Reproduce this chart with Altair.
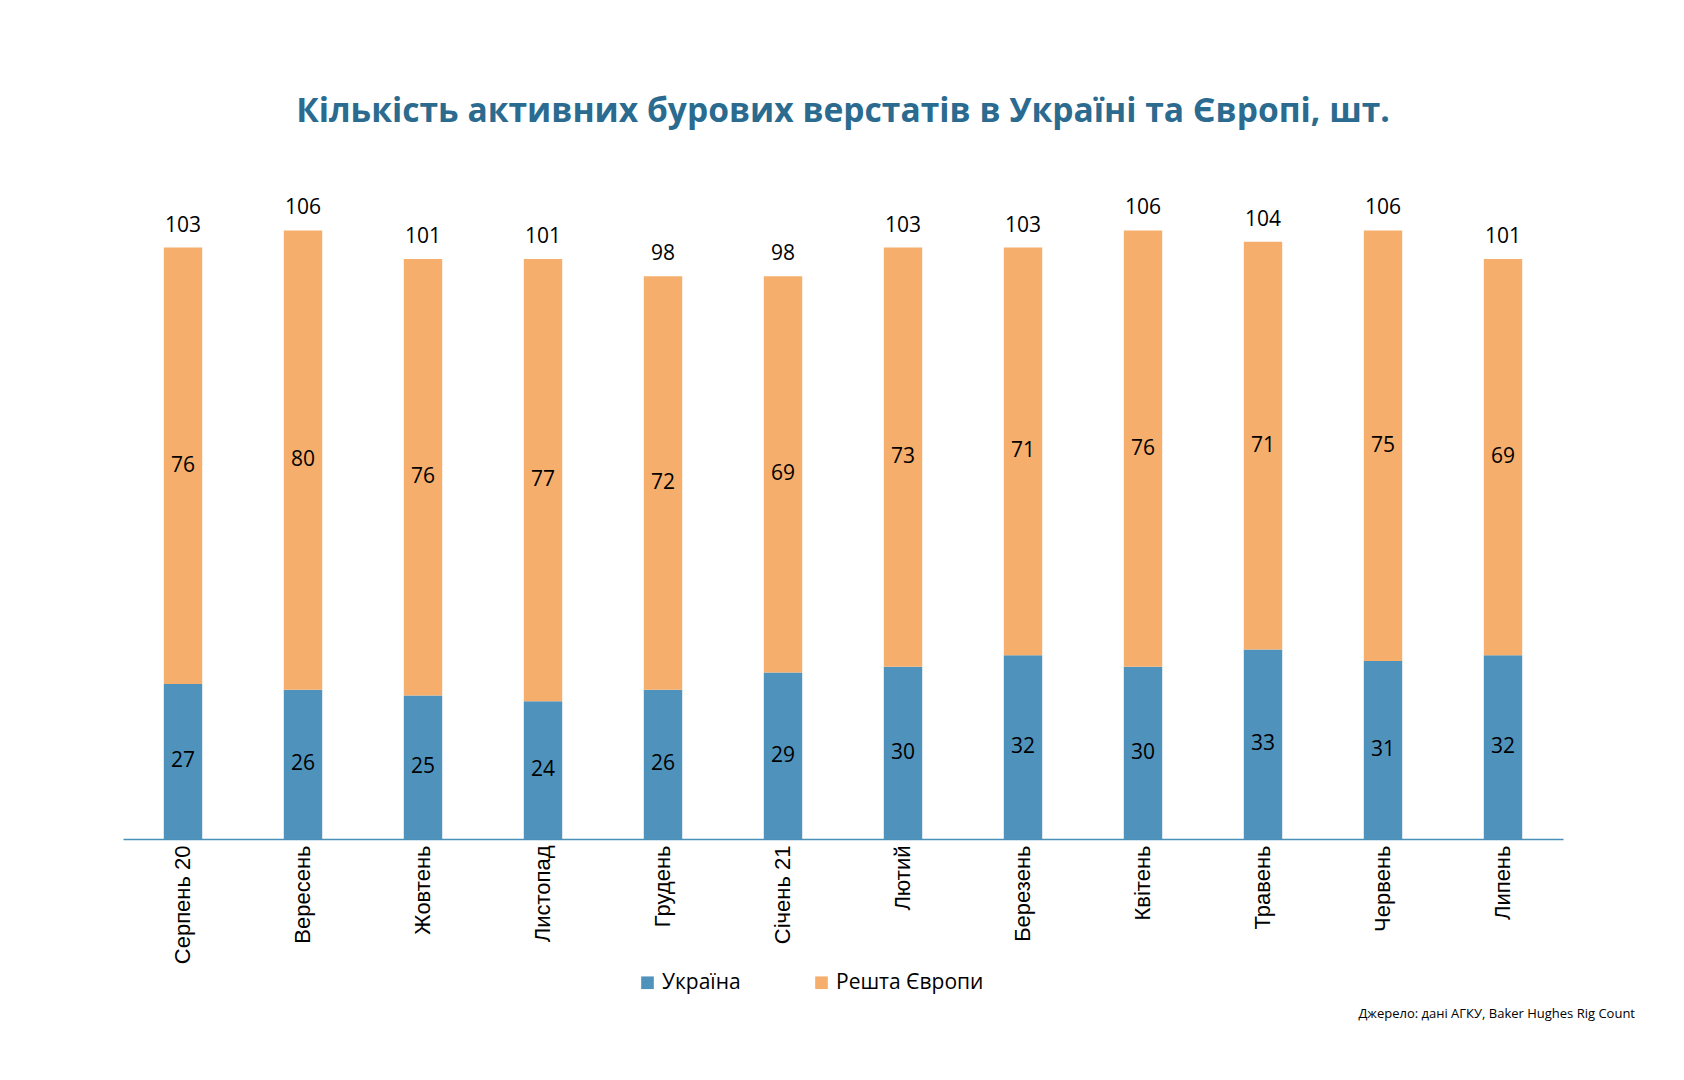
import altair as alt
import pandas as pd

months = ["Серпень 20", "Вересень", "Жовтень", "Листопад", "Грудень", "Січень 21",
          "Лютий", "Березень", "Квітень", "Травень", "Червень", "Липень"]
ukraine = [27, 26, 25, 24, 26, 29, 30, 32, 30, 33, 31, 32]
europe = [76, 80, 76, 77, 72, 69, 73, 71, 76, 71, 75, 69]
series = ["Україна", "Решта Європи"]
colors = ["#4f93bd", "#f6ae6d"]

rows = []
for i, m in enumerate(months):
    rows.append({"month": m, "series": series[0], "value": ukraine[i], "ord": 0})
    rows.append({"month": m, "series": series[1], "value": europe[i], "ord": 1})
df = pd.DataFrame(rows)

FONT = "Open Sans"

base = alt.Chart(df).transform_stack(
    stack="value", as_=["y0", "y1"], groupby=["month"], sort=[alt.SortField("ord")]
).transform_calculate(mid="(datum.y0 + datum.y1) / 2")

xenc = alt.X("month:N", sort=months, title=None,
             scale=alt.Scale(paddingInner=0.68, paddingOuter=0.34),
             axis=alt.Axis(labelAngle=-90, labelAlign="right", labelBaseline="middle",
                           labelFont="Liberation Sans", labelFontSize=22, labelColor="#000000",
                           labelPadding=6, ticks=False, domainColor="#4a8fb6",
                           domainWidth=1.5, grid=False))
yscale = alt.Scale(domain=[0, 120])

bars = base.mark_bar().encode(
    x=xenc,
    y=alt.Y("y0:Q", scale=yscale, axis=None),
    y2="y1:Q",
    color=alt.Color("series:N", sort=series,
                    scale=alt.Scale(domain=series, range=colors),
                    legend=alt.Legend(title=None, orient="none", direction="horizontal",
                                      legendX=514, legendY=822, symbolType="square",
                                      symbolSize=160, symbolStrokeWidth=0,
                                      labelFont=FONT, labelFontSize=21, labelColor="#000000",
                                      labelOffset=4, columnPadding=70)),
    order=alt.Order("ord:Q"),
)

seg_text = base.mark_text(font=FONT, fontSize=21, color="#000000", baseline="middle").encode(
    x=alt.X("month:N", sort=months),
    y=alt.Y("mid:Q", scale=yscale),
    text=alt.Text("value:Q"),
)

totals = alt.Chart(df).transform_aggregate(
    total="sum(value)", groupby=["month"]
).mark_text(font=FONT, fontSize=21, color="#000000", baseline="bottom", dy=-12).encode(
    x=alt.X("month:N", sort=months),
    y=alt.Y("total:Q", scale=yscale),
    text=alt.Text("total:Q"),
)

source = alt.Chart(pd.DataFrame({"t": ["Джерело: дані АГКУ, Baker Hughes Rig Count"]})).mark_text(
    font=FONT, fontSize=13, color="#000000", align="right", baseline="middle"
).encode(x=alt.value(1512), y=alt.value(864), text="t:N")

chart = alt.layer(bars, seg_text, totals, source).properties(
    width=1440, height=689,
    background="white",
    autosize=alt.AutoSizeParams(type="none"),
    padding={"left": 123, "top": 150, "right": 121, "bottom": 241},
    title=alt.TitleParams("Кількість активних бурових верстатів в Україні та Європі, шт.",
                          font=FONT, fontSize=33.6, fontWeight="bold", color="#2a6b8f",
                          anchor="middle", offset=21),
).configure_view(strokeWidth=0, stroke="transparent")

chart.save("out.html", embed_options={"renderer": "svg", "actions": False})
